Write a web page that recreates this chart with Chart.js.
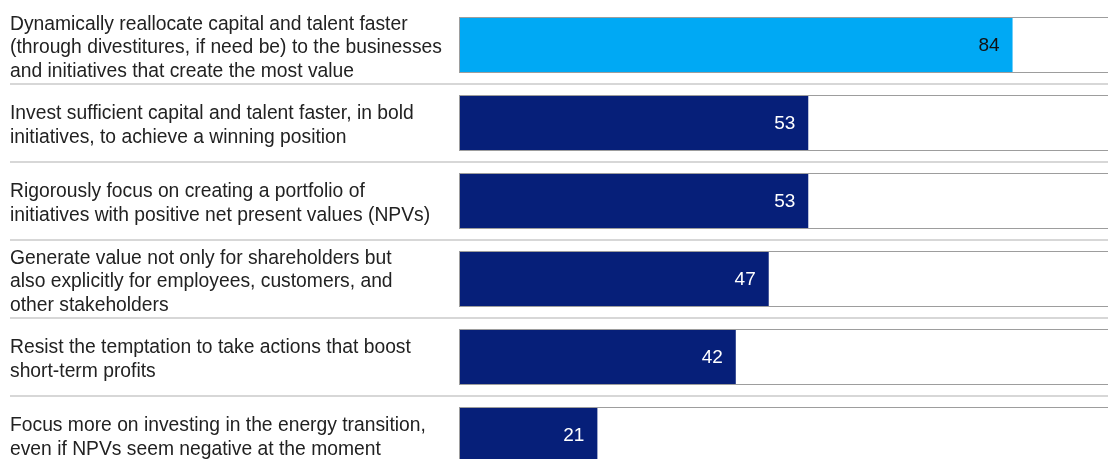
<!DOCTYPE html>
<html>
<head>
<meta charset="utf-8">
<script src="https://cdn.jsdelivr.net/npm/chart.js@4/dist/chart.umd.min.js"></script>
<style>
  html, body { margin: 0; padding: 0; background: #fff; }
  #wrap { width: 1108px; height: 459px; overflow: hidden; position: relative; }
  #chart { display: block; }
</style>
</head>
<body>
<div id="wrap"><canvas id="chart" width="1118" height="480"></canvas></div>
<script>
// data (share of respondents, %)
const labels = [
    ['Dynamically reallocate capital and talent faster', '(through divestitures, if need be) to the businesses', 'and initiatives that create the most value'],
    ['Invest sufficient capital and talent faster, in bold', 'initiatives, to achieve a winning position'],
    ['Rigorously focus on creating a portfolio of', 'initiatives with positive net present values (NPVs)'],
    ['Generate value not only for shareholders but', 'also explicitly for employees, customers, and', 'other stakeholders'],
    ['Resist the temptation to take actions that boost', 'short-term profits'],
    ['Focus more on investing in the energy transition,', 'even if NPVs seem negative at the moment']
];
const values = [84, 53, 53, 47, 42, 21];
const highlight = [true, false, false, false, false, false];

const CYAN = '#00a9f4';
const NAVY = '#061f79';
const FONT = '"Liberation Sans", Arial, sans-serif';

// background track, separators and value labels
const rowDecor = {
    id: 'rowDecor',
    beforeDatasetsDraw(chart) {
        const ctx = chart.ctx;
        const meta = chart.getDatasetMeta(0);
        ctx.save();
        ctx.strokeStyle = '#cacaca';
        ctx.lineWidth = 1.5;
        for (let i = 0; i < meta.data.length - 1; i++) {
            const y = (meta.data[i].y + meta.data[i + 1].y) / 2;
            ctx.beginPath();
            ctx.moveTo(10, y);
            ctx.lineTo(chart.width, y);
            ctx.stroke();
        }
        ctx.restore();
    },
    afterDatasetsDraw(chart) {
        const ctx = chart.ctx;
        const meta = chart.getDatasetMeta(0);
        const xs = chart.scales.x;
        const x0 = xs.getPixelForValue(0);
        const x100 = xs.getPixelForValue(100);
        ctx.save();
        meta.data.forEach(function(bar, i) {
            const top = bar.y - bar.height / 2;
            ctx.strokeStyle = '#9d9d9d';
            ctx.lineWidth = 1;
            ctx.strokeRect(x0 + 0.5, Math.round(top) + 0.5, x100 - x0, Math.round(bar.height) - 1);
            ctx.fillStyle = highlight[i] ? '#111' : '#fff';
            ctx.font = '19px ' + FONT;
            ctx.textAlign = 'right';
            ctx.textBaseline = 'middle';
            ctx.fillText(values[i], bar.x - 13, bar.y + 1);
        });
        ctx.restore();
    }
};

new Chart(document.getElementById('chart'), {
    type: 'bar',
    data: {
        labels: labels,
        datasets: [{
            data: values,
            backgroundColor: highlight.map(h => h ? CYAN : NAVY),
            borderWidth: 0,
            barPercentage: 56 / 78,
            categoryPercentage: 1
        }]
    },
    options: {
        indexAxis: 'y',
        responsive: false,
        animation: false,
        layout: { padding: { left: 10, top: 6, right: 0, bottom: 6 } },
        plugins: {
            legend: { display: false },
            tooltip: { enabled: false }
        },
        scales: {
            x: { display: false, min: 0, max: 100 },
            y: {
                afterFit: function(scale) {
                    scale.width = 449;
                    scale.paddingTop = 0;
                    scale.paddingBottom = 0;
                },
                grid: { display: false, drawTicks: false },
                border: { display: false },
                ticks: {
                    crossAlign: 'far',
                    padding: 0,
                    labelOffset: 3,
                    color: '#222',
                    font: { family: FONT, size: 19.3, lineHeight: 1.23 }
                }
            }
        }
    },
    plugins: [rowDecor]
});
</script>
</body>
</html>
